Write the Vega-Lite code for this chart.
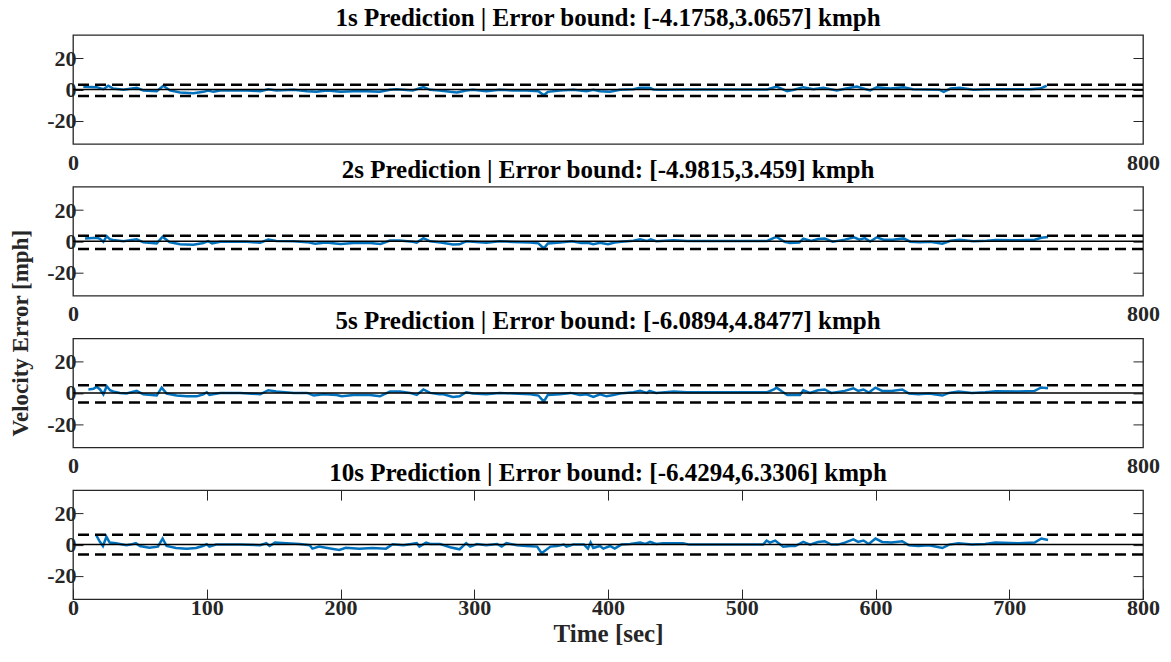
{
  "$schema": "https://vega.github.io/schema/vega-lite/v6.json",
  "padding": {"left": 8, "top": 5, "right": 5, "bottom": 2},
  "spacing": 42.7,
  "bounds": "flush",
  "datasets": {
    "p1": [
      {"t":7.7,"e":1.7},{"t":17.7,"e":1.5},{"t":22.7,"e":0.2},{"t":26.4,"e":2.4},{"t":30,"e":0.6},{"t":37.7,"e":-0.2},{"t":47.6,"e":1.1},{"t":52.6,"e":-0.6},{"t":62.6,"e":-1.1},{"t":67.5,"e":2.4},{"t":72.5,"e":-0.6},{"t":80,"e":-1.9},{"t":90,"e":-2.4},{"t":97.5,"e":-1.5},{"t":101,"e":-0.6},{"t":105,"e":-1.5},{"t":110,"e":-0.6},{"t":130,"e":-0.6},{"t":140,"e":-1.1},{"t":146,"e":0.2},{"t":152,"e":-0.6},{"t":165,"e":-0.2},{"t":175,"e":-1.1},{"t":182,"e":-1.5},{"t":190,"e":-0.6},{"t":200,"e":-1.5},{"t":209.6,"e":-1.1},{"t":219.6,"e":-1.1},{"t":229.5,"e":-1.5},{"t":237,"e":-0.2},{"t":242,"e":0.2},{"t":254,"e":-0.6},{"t":262,"e":1.5},{"t":267,"e":-0.2},{"t":274,"e":-0.6},{"t":282,"e":-1.5},{"t":287,"e":-1.9},{"t":294,"e":-0.6},{"t":299,"e":-0.2},{"t":309,"e":-1.1},{"t":319,"e":-0.2},{"t":329,"e":-0.6},{"t":339,"e":-0.6},{"t":348,"e":-1.1},{"t":352,"e":-3.7},{"t":355,"e":-1.5},{"t":364,"e":-0.6},{"t":374,"e":-0.2},{"t":384,"e":-1.1},{"t":389,"e":-0.2},{"t":394,"e":-1.1},{"t":401.5,"e":-1.5},{"t":409,"e":-0.2},{"t":419,"e":0.2},{"t":424,"e":1.1},{"t":431,"e":1.1},{"t":434,"e":0},{"t":439,"e":-0.2},{"t":459,"e":0},{"t":519,"e":0},{"t":526,"e":1.9},{"t":534,"e":-1.1},{"t":539,"e":-0.2},{"t":546,"e":1.5},{"t":553.5,"e":0.2},{"t":561,"e":1.1},{"t":571,"e":-0.6},{"t":578,"e":0.6},{"t":586,"e":1.9},{"t":596,"e":-0.6},{"t":601,"e":1.5},{"t":611,"e":0.6},{"t":621,"e":1.5},{"t":628,"e":0.2},{"t":648,"e":-0.2},{"t":651,"e":-1.5},{"t":656,"e":0.6},{"t":663,"e":1.1},{"t":673,"e":-0.2},{"t":683,"e":0.2},{"t":693,"e":0.2},{"t":703,"e":0.2},{"t":715.5,"e":0.2},{"t":723,"e":0.6},{"t":728,"e":2.4}
    ],
    "p2": [
      {"t":9,"e":1.8},{"t":17.7,"e":2.2},{"t":20.2,"e":1.5},{"t":22.7,"e":-0.4},{"t":25.2,"e":3.2},{"t":27.7,"e":1.2},{"t":30,"e":0.8},{"t":37.7,"e":-0.1},{"t":47.6,"e":1.2},{"t":52.6,"e":-0.7},{"t":62.6,"e":-1.4},{"t":67,"e":2.9},{"t":72,"e":-0.5},{"t":80,"e":-2.0},{"t":90,"e":-2.3},{"t":97.5,"e":-1.2},{"t":101,"e":0},{"t":104,"e":-1.4},{"t":110,"e":-0.3},{"t":130,"e":-0.3},{"t":140,"e":-1.0},{"t":146,"e":1.0},{"t":152,"e":0.2},{"t":165,"e":-0.1},{"t":175,"e":-0.6},{"t":181,"e":-1.6},{"t":189,"e":-0.8},{"t":200,"e":-1.8},{"t":210,"e":-1.2},{"t":222,"e":-1.2},{"t":230,"e":-1.8},{"t":237,"e":0.4},{"t":244,"e":0.5},{"t":254,"e":-0.3},{"t":257,"e":-0.9},{"t":262,"e":1.9},{"t":267,"e":-0.1},{"t":275,"e":-0.8},{"t":284,"e":-2.1},{"t":289,"e":-2.0},{"t":294,"e":-0.1},{"t":299,"e":-0.3},{"t":309,"e":-1.0},{"t":319,"e":-0.1},{"t":329,"e":-0.5},{"t":342,"e":-0.8},{"t":348,"e":-1.4},{"t":352,"e":-4.7},{"t":355,"e":-1.4},{"t":364,"e":-0.8},{"t":373,"e":-0.1},{"t":380,"e":-1.2},{"t":385,"e":-1.0},{"t":389,"e":-2.0},{"t":394,"e":-1.0},{"t":400,"e":-1.9},{"t":405,"e":-0.8},{"t":410,"e":-0.3},{"t":419,"e":0.3},{"t":424,"e":1.2},{"t":429,"e":0.1},{"t":432,"e":1.2},{"t":436,"e":0},{"t":449,"e":0.6},{"t":459,"e":0.2},{"t":519,"e":0.2},{"t":524,"e":2.1},{"t":526,"e":2.7},{"t":532,"e":-0.4},{"t":536,"e":-1.2},{"t":543,"e":-0.8},{"t":546,"e":1.6},{"t":552,"e":0.1},{"t":557,"e":1.4},{"t":562,"e":1.7},{"t":568,"e":-0.3},{"t":577,"e":1.0},{"t":584,"e":2.5},{"t":588,"e":1.0},{"t":592,"e":2.0},{"t":596,"e":-0.2},{"t":601,"e":2.5},{"t":606,"e":1.0},{"t":613,"e":1.0},{"t":621,"e":1.8},{"t":626,"e":-0.3},{"t":633,"e":-0.6},{"t":641,"e":-0.3},{"t":650,"e":-1.6},{"t":656,"e":0.3},{"t":663,"e":1.0},{"t":673,"e":-0.1},{"t":683,"e":0.3},{"t":690,"e":0.8},{"t":707,"e":0.6},{"t":719,"e":0.9},{"t":724,"e":2.2},{"t":729,"e":2.7}
    ],
    "p3": [
      {"t":11.5,"e":2.2},{"t":15.2,"e":2.6},{"t":17.7,"e":3.9},{"t":20.2,"e":2.2},{"t":22.7,"e":-0.9},{"t":25.2,"e":4.3},{"t":27.7,"e":1.7},{"t":30,"e":0.9},{"t":35,"e":0},{"t":40,"e":-0.4},{"t":47.6,"e":1.3},{"t":52.6,"e":-0.9},{"t":62.6,"e":-1.7},{"t":66.3,"e":3.4},{"t":70,"e":-0.4},{"t":77.5,"e":-1.7},{"t":85,"e":-2.2},{"t":92.5,"e":-2.2},{"t":97.5,"e":-0.9},{"t":100,"e":0.4},{"t":102,"e":-1.3},{"t":110,"e":0},{"t":125,"e":0},{"t":140,"e":-0.9},{"t":146,"e":1.7},{"t":152,"e":0.9},{"t":165,"e":0},{"t":175,"e":0},{"t":180,"e":-1.7},{"t":187,"e":-0.9},{"t":197,"e":-1.3},{"t":201,"e":-2.2},{"t":209.6,"e":-1.3},{"t":222,"e":-1.3},{"t":229.5,"e":-2.2},{"t":237,"e":0.9},{"t":244.5,"e":0.9},{"t":252,"e":0},{"t":257,"e":-1.3},{"t":262,"e":2.2},{"t":267,"e":0},{"t":274,"e":-0.9},{"t":277,"e":-0.9},{"t":284,"e":-2.6},{"t":289,"e":-2.2},{"t":294,"e":0.4},{"t":299,"e":-0.4},{"t":309,"e":-0.9},{"t":319,"e":0},{"t":329,"e":-0.4},{"t":342,"e":-0.9},{"t":348,"e":-1.7},{"t":352,"e":-5.6},{"t":355,"e":-1.3},{"t":364,"e":-0.9},{"t":372,"e":0},{"t":379,"e":-1.3},{"t":384,"e":-0.9},{"t":389,"e":-2.6},{"t":394,"e":-0.9},{"t":399,"e":-2.2},{"t":404,"e":-1.3},{"t":409,"e":-0.4},{"t":419,"e":0.4},{"t":424,"e":1.3},{"t":429,"e":0},{"t":431,"e":1.3},{"t":436,"e":0},{"t":449,"e":0.9},{"t":459,"e":0.4},{"t":519,"e":0.4},{"t":524,"e":2.2},{"t":526,"e":3.4},{"t":531,"e":0.4},{"t":534,"e":-1.3},{"t":543.5,"e":-1.3},{"t":546,"e":1.7},{"t":551,"e":0},{"t":557,"e":1.7},{"t":562,"e":2.2},{"t":567,"e":0},{"t":577,"e":1.3},{"t":583.5,"e":3.0},{"t":587,"e":1.3},{"t":591,"e":2.2},{"t":595,"e":0.2},{"t":600,"e":3.4},{"t":605,"e":1.3},{"t":612,"e":1.3},{"t":620,"e":2.2},{"t":625,"e":-0.4},{"t":632,"e":-0.9},{"t":640,"e":-0.4},{"t":650,"e":-1.7},{"t":655,"e":0},{"t":662,"e":0.9},{"t":672,"e":0},{"t":682,"e":0.4},{"t":690,"e":1.1},{"t":707,"e":0.9},{"t":719,"e":1.3},{"t":724,"e":3.5},{"t":729,"e":3.0}
    ],
    "p4": [
      {"t":17.4,"e":6},{"t":20,"e":2},{"t":22.4,"e":-0.9},{"t":25,"e":5},{"t":27.4,"e":1.3},{"t":32,"e":0.9},{"t":40,"e":-0.4},{"t":43,"e":0},{"t":47,"e":0.9},{"t":50,"e":-0.9},{"t":57,"e":-2},{"t":63.5,"e":-1.3},{"t":67,"e":3.9},{"t":70,"e":-0.9},{"t":77,"e":-2.2},{"t":85,"e":-2.6},{"t":92,"e":-2.2},{"t":97,"e":-0.9},{"t":100,"e":0.2},{"t":102,"e":-1.3},{"t":107,"e":0},{"t":125,"e":0},{"t":140,"e":-0.4},{"t":144.5,"e":0.9},{"t":147,"e":-0.9},{"t":151,"e":1.3},{"t":159.5,"e":0.9},{"t":169.5,"e":0.4},{"t":177,"e":-0.4},{"t":179,"e":-2.6},{"t":184,"e":-1.3},{"t":189,"e":-2},{"t":199,"e":-3.4},{"t":204,"e":-2},{"t":214,"e":-2.6},{"t":224,"e":-2.2},{"t":234,"e":-2.6},{"t":239,"e":0.2},{"t":247,"e":-0.4},{"t":257,"e":0.9},{"t":259,"e":-1.3},{"t":264,"e":1.3},{"t":267,"e":0.4},{"t":274.5,"e":0.4},{"t":282,"e":-1.7},{"t":289,"e":-3},{"t":294,"e":0.9},{"t":297,"e":-1.3},{"t":302,"e":0.4},{"t":309,"e":-0.4},{"t":317,"e":0.4},{"t":320.5,"e":-1.3},{"t":324,"e":0.9},{"t":332,"e":-0.4},{"t":339,"e":-0.9},{"t":347,"e":-1.3},{"t":350.4,"e":-5.6},{"t":357,"e":-1.3},{"t":362,"e":-0.9},{"t":367,"e":0},{"t":369,"e":-1.3},{"t":374,"e":0},{"t":382,"e":0},{"t":385,"e":-2.6},{"t":387,"e":1.3},{"t":389,"e":-2.2},{"t":394,"e":-0.9},{"t":396.5,"e":-2.6},{"t":401.5,"e":-0.9},{"t":405,"e":-2.6},{"t":410,"e":0},{"t":416.5,"e":0.4},{"t":424,"e":1.3},{"t":428,"e":0.4},{"t":431.5,"e":1.7},{"t":436,"e":0.4},{"t":441,"e":0.9},{"t":456,"e":0.9},{"t":461,"e":0},{"t":516,"e":0},{"t":518.6,"e":2.6},{"t":521,"e":1.3},{"t":525,"e":2.6},{"t":531,"e":-1.3},{"t":536,"e":-0.9},{"t":540,"e":-0.9},{"t":546,"e":1.7},{"t":551,"e":0},{"t":557,"e":1.7},{"t":562,"e":2.2},{"t":567,"e":0},{"t":572,"e":0},{"t":577,"e":1.3},{"t":583.5,"e":3.4},{"t":587,"e":1.7},{"t":591,"e":2.6},{"t":595,"e":0.4},{"t":600,"e":3.9},{"t":605,"e":1.7},{"t":612,"e":1.3},{"t":620,"e":2.2},{"t":625,"e":-0.4},{"t":632,"e":-0.9},{"t":640,"e":-0.4},{"t":650,"e":-2.2},{"t":655,"e":0},{"t":662,"e":0.9},{"t":672,"e":0},{"t":682,"e":0.4},{"t":689.5,"e":1.3},{"t":707,"e":0.9},{"t":719,"e":1.3},{"t":724,"e":3.9},{"t":729,"e":3.0}
    ]
  },
  "vconcat": [
    {
      "title": {"text": "1s Prediction | Error bound: [-4.1758,3.0657] kmph"},
      "width": 1070, "height": 109,
      "layer": [
        {"data": {"name": "p1"}, "mark": {"type": "line", "color": "#0072BD", "strokeWidth": 2.5},
         "encoding": {
           "x": {"field": "t", "type": "quantitative", "scale": {"domain": [0, 800]}, "axis": {"values": [0, 800], "ticks": false, "labelPadding": 8, "title": null}},
           "y": {"field": "e", "type": "quantitative", "scale": {"domain": [-35, 35]}, "axis": {"values": [-20, 0, 20], "title": null}}}},
        {"data": {"values": [{}]}, "mark": {"type": "rule", "color": "black", "strokeWidth": 1.5},
         "encoding": {"x": {"datum": 0, "type": "quantitative", "axis": null}, "x2": {"datum": 800}, "y": {"datum": 0, "type": "quantitative", "axis": null}}},
        {"data": {"values": [{"b": 3.0657}, {"b": -4.1758}]}, "mark": {"type": "rule", "color": "black", "strokeWidth": 2.5, "strokeDash": [11, 6]},
         "encoding": {"y": {"field": "b", "type": "quantitative", "axis": {"orient": "right", "values": [-20, 0, 20], "labels": false, "title": null}}}}
      ],
      "resolve": {"axis": {"x": "independent", "y": "independent"}}
    },
    {
      "title": {"text": "2s Prediction | Error bound: [-4.9815,3.459] kmph"},
      "width": 1070, "height": 109,
      "layer": [
        {"data": {"name": "p2"}, "mark": {"type": "line", "color": "#0072BD", "strokeWidth": 2.5},
         "encoding": {
           "x": {"field": "t", "type": "quantitative", "scale": {"domain": [0, 800]}, "axis": {"values": [0, 800], "ticks": false, "labelPadding": 8, "title": null}},
           "y": {"field": "e", "type": "quantitative", "scale": {"domain": [-35, 35]}, "axis": {"values": [-20, 0, 20], "title": "Velocity Error [mph]", "titleFontSize": 23, "titleX": -41, "titleY": 146}}}},
        {"data": {"values": [{}]}, "mark": {"type": "rule", "color": "black", "strokeWidth": 1.5},
         "encoding": {"x": {"datum": 0, "type": "quantitative", "axis": null}, "x2": {"datum": 800}, "y": {"datum": 0, "type": "quantitative", "axis": null}}},
        {"data": {"values": [{"b": 3.459}, {"b": -4.9815}]}, "mark": {"type": "rule", "color": "black", "strokeWidth": 2.5, "strokeDash": [11, 6]},
         "encoding": {"y": {"field": "b", "type": "quantitative", "axis": {"orient": "right", "values": [-20, 0, 20], "labels": false, "title": null}}}}
      ],
      "resolve": {"axis": {"x": "independent", "y": "independent"}}
    },
    {
      "title": {"text": "5s Prediction | Error bound: [-6.0894,4.8477] kmph"},
      "width": 1070, "height": 109,
      "layer": [
        {"data": {"name": "p3"}, "mark": {"type": "line", "color": "#0072BD", "strokeWidth": 2.5},
         "encoding": {
           "x": {"field": "t", "type": "quantitative", "scale": {"domain": [0, 800]}, "axis": {"values": [0, 800], "ticks": false, "labelPadding": 8, "title": null}},
           "y": {"field": "e", "type": "quantitative", "scale": {"domain": [-35, 35]}, "axis": {"values": [-20, 0, 20], "title": null}}}},
        {"data": {"values": [{}]}, "mark": {"type": "rule", "color": "black", "strokeWidth": 1.5},
         "encoding": {"x": {"datum": 0, "type": "quantitative", "axis": null}, "x2": {"datum": 800}, "y": {"datum": 0, "type": "quantitative", "axis": null}}},
        {"data": {"values": [{"b": 4.8477}, {"b": -6.0894}]}, "mark": {"type": "rule", "color": "black", "strokeWidth": 2.5, "strokeDash": [11, 6]},
         "encoding": {"y": {"field": "b", "type": "quantitative", "axis": {"orient": "right", "values": [-20, 0, 20], "labels": false, "title": null}}}}
      ],
      "resolve": {"axis": {"x": "independent", "y": "independent"}}
    },
    {
      "title": {"text": "10s Prediction | Error bound: [-6.4294,6.3306] kmph"},
      "width": 1070, "height": 109,
      "layer": [
        {"data": {"name": "p4"}, "mark": {"type": "line", "color": "#0072BD", "strokeWidth": 2.5},
         "encoding": {
           "x": {"field": "t", "type": "quantitative", "scale": {"domain": [0, 800]}, "axis": {"values": [0, 100, 200, 300, 400, 500, 600, 700, 800], "labelPadding": 8, "title": "Time [sec]", "titlePadding": 3}},
           "y": {"field": "e", "type": "quantitative", "scale": {"domain": [-35, 35]}, "axis": {"values": [-20, 0, 20], "title": null}}}},
        {"data": {"values": [{}]}, "mark": {"type": "rule", "color": "black", "strokeWidth": 1.5},
         "encoding": {"x": {"datum": 0, "type": "quantitative", "axis": {"orient": "top", "values": [100, 200, 300, 400, 500, 600, 700], "labels": false, "title": null}}, "x2": {"datum": 800}, "y": {"datum": 0, "type": "quantitative", "axis": null}}},
        {"data": {"values": [{"b": 6.3306}, {"b": -6.4294}]}, "mark": {"type": "rule", "color": "black", "strokeWidth": 2.5, "strokeDash": [11, 6]},
         "encoding": {"y": {"field": "b", "type": "quantitative", "axis": {"orient": "right", "values": [-20, 0, 20], "labels": false, "title": null}}}}
      ],
      "resolve": {"axis": {"x": "independent", "y": "independent"}}
    }
  ],
  "config": {
    "font": "Liberation Serif",
    "view": {"stroke": "#262626", "strokeWidth": 1.3},
    "title": {"font": "Liberation Serif", "fontSize": 25, "fontWeight": "bold", "color": "black", "offset": 4},
    "axis": {
      "labelFont": "Liberation Serif", "labelFontSize": 22, "labelFontWeight": "bold", "labelColor": "#262626",
      "labelExpr": "'' + datum.value", "labelFlush": false, "labelOverlap": false, "labelPadding": 7,
      "tickColor": "#262626", "tickWidth": 1, "tickSize": -10,
      "domain": false, "grid": false,
      "titleFont": "Liberation Serif", "titleFontSize": 25, "titleFontWeight": "bold", "titleColor": "#262626"
    }
  }
}
